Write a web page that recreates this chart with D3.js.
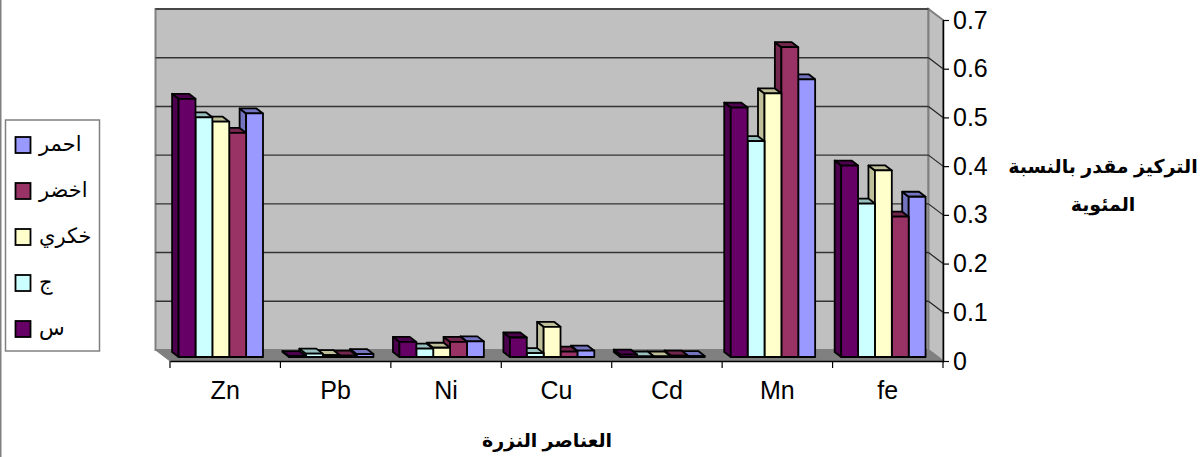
<!DOCTYPE html>
<html lang="ar">
<head>
<meta charset="utf-8">
<script src="https://cdn.jsdelivr.net/npm/d3@7/dist/d3.min.js"></script>
<style>
  html, body { margin: 0; padding: 0; background: #fff; }
  svg { display: block; }
  text { fill: #000; font-family: "Liberation Sans", "DejaVu Sans", sans-serif; }
</style>
</head>
<body>
<svg id="chart" width="1202" height="457"></svg>
<script>
// Element concentrations by sample colour
const categories = ["Zn", "Pb", "Ni", "Cu", "Cd", "Mn", "fe"];
const seriesNames = ["س", "ج", "خكري", "اخضر", "احمر"];
const seriesColors = ["#660066", "#CCFFFF", "#FFFFCC", "#993366", "#9999FF"];

const valuesS      = [0.530, 0.002, 0.031, 0.040, 0.005, 0.512, 0.393];
const valuesJ      = [0.492, 0.007, 0.017, 0.008, 0.001, 0.443, 0.315];
const valuesKhakri = [0.483, 0.004, 0.019, 0.062, 0.001, 0.541, 0.383];
const valuesAkhdar = [0.460, 0.003, 0.031, 0.011, 0.003, 0.636, 0.288];
const valuesAhmar  = [0.500, 0.006, 0.032, 0.013, 0.002, 0.570, 0.329];
const seriesValues = [valuesS, valuesJ, valuesKhakri, valuesAkhdar, valuesAhmar];

const yTicks = [0, 0.1, 0.2, 0.3, 0.4, 0.5, 0.6, 0.7];
const yTitleLines = ["التركيز مقدر بالنسبة", "المئوية"];
const xTitle = "العناصر النزرة";

const svg = d3.select("#chart");

// Front plane of the box; the walls sit one depth step behind it
const front = { left: 170, right: 943, top: 20, bottom: 361 };
const wallDepth = { x: -14.5, y: -11 };
const barDepth = { x: -6.5, y: -5 };
const barLift = 4;

const x = d3.scaleBand().domain(categories).range([front.left, front.right]);
const xInner = d3.scaleBand().domain(d3.range(seriesNames.length)).range([8.6, 93]);
const y = d3.scaleLinear().domain([0, 0.7]).range([front.bottom, front.top]);

const shade = c => {
  const r = d3.rgb(c);
  return d3.rgb(r.r * 0.75, r.g * 0.75, r.b * 0.75).formatHex();
};
const poly = pts => pts.map(p => p.join(",")).join(" ");

// Left border of the frame
svg.append("line").attr("x1", 0.5).attr("x2", 0.5).attr("y1", 0).attr("y2", 457)
  .attr("stroke", "#808080").attr("stroke-width", 2);

// Back wall, side wall and floor
const wl = front.left + wallDepth.x, wr = front.right + wallDepth.x;
const wt = front.top + wallDepth.y, wb = front.bottom + wallDepth.y;
svg.append("rect").attr("x", wl).attr("y", wt).attr("width", wr - wl).attr("height", wb - wt)
  .attr("fill", "#C0C0C0").attr("stroke", "#808080").attr("stroke-width", 2);
svg.append("polygon")
  .attr("points", poly([[wr, wt], [front.right, front.top], [front.right, front.bottom], [wr, wb]]))
  .attr("fill", "#C0C0C0").attr("stroke", "#808080").attr("stroke-width", 2);
svg.append("polygon")
  .attr("points", poly([[wl, wb], [wr, wb], [front.right, front.bottom], [front.left, front.bottom]]))
  .attr("fill", "#808080").attr("stroke", "#808080").attr("stroke-width", 1);

// Gridlines on the back wall, folding along the side wall to the axis
const gridTicks = yTicks.filter(t => t > 0);
svg.append("g").selectAll("line.grid").data(gridTicks).join("line")
  .attr("x1", wl).attr("x2", wr)
  .attr("y1", d => y(d) + wallDepth.y).attr("y2", d => y(d) + wallDepth.y)
  .attr("stroke", "#333").attr("stroke-width", 1.4);
svg.append("g").selectAll("line").data(gridTicks.filter(t => t < 0.7)).join("line")
  .attr("x1", wr).attr("x2", front.right)
  .attr("y1", d => y(d) + wallDepth.y).attr("y2", d => y(d))
  .attr("stroke", "#222").attr("stroke-width", 1.2);

// Bars, right to left so each side face tucks behind its left neighbour
const barsLayer = svg.append("g");
categories.forEach((cat, ci) => {
  for (let si = seriesNames.length - 1; si >= 0; si--) {
    const color = seriesColors[si];
    const v = seriesValues[si][ci];
    const x0 = x(cat) + xInner(si);
    const x1 = x0 + xInner.bandwidth();
    const yTop = y(v) - barLift;
    const yBase = y(0) - barLift;
    const g = barsLayer.append("g")
      .attr("stroke", "#000").attr("stroke-width", 1.8).attr("stroke-linejoin", "round");
    g.append("polygon")
      .attr("points", poly([[x0, yTop], [x0 + barDepth.x, yTop + barDepth.y],
                            [x0 + barDepth.x, yBase + barDepth.y], [x0, yBase]]))
      .attr("fill", shade(color));
    g.append("polygon")
      .attr("points", poly([[x0, yTop], [x0 + barDepth.x, yTop + barDepth.y],
                            [x1 + barDepth.x, yTop + barDepth.y], [x1, yTop]]))
      .attr("fill", shade(color));
    g.append("rect")
      .attr("x", x0).attr("y", yTop)
      .attr("width", x1 - x0).attr("height", yBase - yTop)
      .attr("fill", color);
  }
});

// Value axis on the right
const yAxis = d3.axisRight(y).tickValues(yTicks)
  .tickFormat(d => d === 0 ? "0" : d3.format(".1f")(d))
  .tickSize(6).tickSizeOuter(0).tickPadding(4);
const yG = svg.append("g").attr("transform", `translate(${front.right},0)`).call(yAxis);
yG.select(".domain").attr("stroke", "#000").attr("stroke-width", 1.5);
yG.selectAll(".tick line").attr("stroke", "#000").attr("stroke-width", 1.2);
yG.selectAll("text").style("font-size", "25px");

// Category axis: ticks fall on the band edges, labels at the band centres
const xAxis = d3.axisBottom(x).tickSize(0).tickPadding(20);
const xG = svg.append("g").attr("transform", `translate(0,${front.bottom})`).call(xAxis);
xG.select(".domain").attr("stroke", "#000").attr("stroke-width", 1.5);
xG.selectAll("text").style("font-size", "25px");
const edges = categories.map(c => x(c)).concat([front.right]);
xG.selectAll("line.edge").data(edges).join("line").attr("class", "edge")
  .attr("x1", d => d).attr("x2", d => d).attr("y1", 0).attr("y2", 7)
  .attr("stroke", "#000").attr("stroke-width", 1.2);

// Axis titles
svg.append("text").attr("x", 547).attr("y", 447).attr("text-anchor", "middle")
  .style("font-weight", "bold").style("font-size", "19px").text(xTitle);
svg.selectAll("text.ytitle").data(yTitleLines).join("text").attr("class", "ytitle")
  .attr("x", 1103).attr("y", (d, i) => 173 + i * 38).attr("text-anchor", "middle")
  .style("font-weight", "bold").style("font-size", "19px").text(d => d);

// Legend, listed in reverse series order
const legend = svg.append("g");
legend.append("rect").attr("x", 5.5).attr("y", 120).attr("width", 94).attr("height", 231)
  .attr("fill", "#fff").attr("stroke", "#808080").attr("stroke-width", 1.5);
const legendOrder = d3.range(seriesNames.length).reverse();
const legendY = d3.scalePoint().domain(legendOrder).range([145, 329]);
legendOrder.forEach(si => {
  legend.append("rect")
    .attr("x", 15.5).attr("y", legendY(si) - 8).attr("width", 15).attr("height", 16)
    .attr("fill", seriesColors[si]).attr("stroke", "#000").attr("stroke-width", 1.8);
  legend.append("text")
    .attr("x", 39).attr("y", legendY(si) + 6)
    .style("font-size", "21px").text(seriesNames[si]);
});
</script>
</body>
</html>
